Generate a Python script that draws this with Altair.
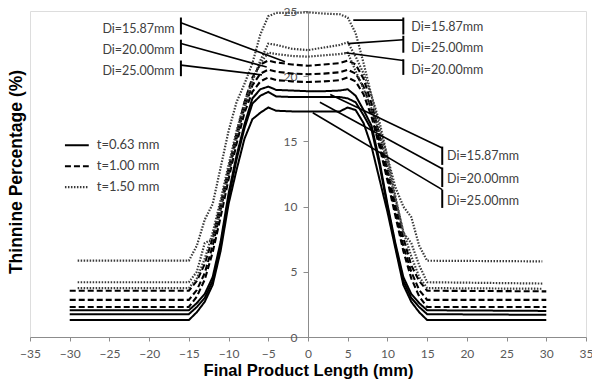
import altair as alt
import pandas as pd

# ---------------- data ----------------
x_grid = [-30, -15, -14, -13, -12, -11, -10, -9, -8, -7, -6, -5, -4, -2, 0, 2, 4, 5, 6, 7, 8, 9, 10, 11, 12, 13, 14, 15, 30]
x_dot = [-29, -15, -14, -13, -12, -11, -10, -9, -8, -7, -6, -5, -4, -2, 0, 2, 4, 5, 6, 7, 8, 9, 10, 11, 12, 13, 14, 15, 29.5]

# t = 0.63 mm (solid)
s_1587 = [2.05, 2.05, 2.6, 3.3, 4.6, 7.3, 11.0, 13.9, 16.3, 18.3, 19.0, 19.2, 18.95, 18.9, 18.85, 18.85, 18.9, 19.0, 18.5, 17.4, 16.2, 13.5, 10.2, 7.2, 4.6, 3.3, 2.6, 2.05, 2.0]
s_2000 = [1.75, 1.75, 2.3, 3.0, 4.3, 7.0, 10.6, 13.6, 16.0, 17.9, 18.5, 18.8, 18.45, 18.4, 18.4, 18.4, 18.4, 18.3, 18.0, 17.0, 15.9, 13.2, 10.0, 7.0, 4.3, 3.0, 2.3, 1.75, 1.7]
s_2500 = [1.3, 1.3, 1.9, 2.7, 4.0, 6.6, 10.2, 12.8, 15.2, 16.7, 17.2, 17.6, 17.35, 17.3, 17.3, 17.3, 17.3, 17.6, 17.4, 16.4, 14.6, 12.1, 9.6, 6.8, 4.0, 2.7, 1.9, 1.3, 1.3]

# t = 1.00 mm (dashed)
d_1587 = [3.55, 3.55, 4.3, 5.6, 7.6, 10.2, 12.9, 15.6, 18.0, 19.9, 20.9, 21.2, 21.05, 20.9, 20.8, 20.9, 21.0, 21.2, 20.9, 19.8, 17.9, 15.5, 12.9, 10.2, 7.6, 5.5, 4.3, 3.55, 3.5]
d_2000 = [2.85, 2.85, 3.6, 4.9, 7.0, 9.7, 12.5, 15.2, 17.6, 19.3, 20.2, 20.5, 20.35, 20.2, 20.15, 20.2, 20.3, 20.5, 20.2, 19.2, 17.4, 15.0, 12.4, 9.7, 7.0, 5.0, 3.6, 2.85, 2.85]
d_2500 = [2.3, 2.3, 3.1, 4.4, 6.5, 9.2, 12.1, 14.8, 17.2, 18.8, 19.6, 19.9, 19.7, 19.6, 19.55, 19.6, 19.7, 19.9, 19.6, 18.6, 16.9, 14.6, 12.0, 9.3, 6.6, 4.5, 3.1, 2.3, 2.3]

# t = 1.50 mm (dotted)
p_1587 = [5.85, 5.85, 7.0, 9.0, 10.2, 13.0, 15.8, 18.0, 19.4, 21.0, 23.2, 24.6, 24.85, 24.85, 24.9, 24.8, 24.75, 24.5, 23.3, 21.0, 18.5, 16.0, 13.8, 11.5, 10.0, 9.2, 7.0, 5.85, 5.8]
p_2500 = [4.2, 4.2, 5.0, 7.2, 7.5, 9.8, 12.6, 15.4, 17.6, 19.6, 21.2, 22.5, 22.4, 22.1, 22.0, 22.2, 22.4, 22.6, 21.5, 20.2, 18.5, 16.5, 13.8, 10.8, 8.0, 7.2, 5.5, 4.2, 4.1]
p_2000 = [3.75, 3.75, 4.5, 6.0, 8.0, 10.5, 13.2, 15.8, 18.0, 19.7, 21.0, 21.8, 21.7, 21.55, 21.5, 21.6, 21.7, 21.8, 20.4, 19.0, 17.5, 15.6, 13.2, 10.6, 8.1, 6.2, 4.6, 3.75, 3.7]

thickness = ["t=0.63 mm", "t=1.00 mm", "t=1.50 mm"]
diameters = ["Di=15.87mm", "Di=20.00mm", "Di=25.00mm"]

series = [
    (thickness[0], diameters[0], x_grid, s_1587),
    (thickness[0], diameters[1], x_grid, s_2000),
    (thickness[0], diameters[2], x_grid, s_2500),
    (thickness[1], diameters[0], x_grid, d_1587),
    (thickness[1], diameters[1], x_grid, d_2000),
    (thickness[1], diameters[2], x_grid, d_2500),
    (thickness[2], diameters[0], x_dot, p_1587),
    (thickness[2], diameters[2], x_dot, p_2500),
    (thickness[2], diameters[1], x_dot, p_2000),
]

# annotation callouts
ann_label = ["Di=15.87mm", "Di=20.00mm", "Di=25.00mm",
             "Di=15.87mm", "Di=25.00mm", "Di=20.00mm",
             "Di=15.87mm", "Di=20.00mm", "Di=25.00mm"]
ann_bar_x = [-16.0, -16.0, -16.0, 12.0, 12.0, 12.0, 16.9, 16.9, 16.9]
ann_bar_top = [24.5, 22.8, 21.2, 24.5, 23.1, 21.3, 14.6, 13.0, 11.3]
ann_bar_bot = [23.2, 21.7, 20.0, 23.2, 21.8, 20.1, 13.2, 11.5, 9.9]
ann_line_y = [24.1, 22.5, 20.85, 24.3, 22.8, 21.2, 14.5, 12.9, 11.3]
ann_end_x = [-2.9, -5.2, -5.8, 5.7, 5.0, 4.7, 2.8, 1.5, 0.6]
ann_end_y = [21.1, 20.7, 20.1, 24.3, 22.5, 21.8, 18.6, 18.0, 17.2]
ann_text_x = [-16.8, -16.8, -16.8, 13.0, 13.0, 13.0, 17.5, 17.5, 17.5]
ann_text_y = [23.6, 22.0, 20.4, 23.8, 22.15, 20.5, 13.85, 12.15, 10.45]
ann_align = ["right"] * 3 + ["left"] * 6

# legend (drawn inside the plot)
leg_x1 = [-30.6, -30.6, -30.6]
leg_x2 = [-27.6, -27.6, -27.6]
leg_tx = [-26.6, -26.6, -26.6]
leg_y = [14.7, 13.1, 11.5]

x_title = "Final Product Length (mm)"
y_title = "Thinnine Percentage (%)"
x_ticks = list(range(-35, 40, 5))
y_ticks = [0, 5, 10, 15, 20, 25]

# ---------------- tables ----------------
rows = []
for t, di, xs, ys in series:
    for xv, yv in zip(xs, ys):
        rows.append({"t": t, "Di": di, "curve": t + " " + di, "x": xv, "y": yv})
df = pd.DataFrame(rows)

ann = pd.DataFrame({
    "label": ann_label, "bx": ann_bar_x, "btop": ann_bar_top, "bbot": ann_bar_bot,
    "ly": ann_line_y, "ex": ann_end_x, "ey": ann_end_y,
    "tx": ann_text_x, "ty": ann_text_y, "align": ann_align,
})
leg = pd.DataFrame({"t": thickness, "x1": leg_x1, "x2": leg_x2, "tx": leg_tx, "y": leg_y})

W, H = 556, 326
xscale = alt.Scale(domain=[-35, 35], nice=False, zero=False)
yscale = alt.Scale(domain=[0, 25], nice=False)
dash_scale = alt.Scale(domain=thickness, range=[[1, 0], [6, 3], [1.5, 1.5]])
col_scale = alt.Scale(domain=thickness, range=["#000000", "#000000", "#3a3a3a"])
width_scale = alt.Scale(domain=thickness, range=[2.0, 2.2, 1.6])

x_axis = alt.Axis(values=x_ticks, title=x_title, grid=False, labelFont="Lato", labelFontSize=12,
                  labelColor="#595959", domainColor="#8c8c8c", tickColor="#8c8c8c", tickSize=4,
                  labelPadding=7, titleFont="Liberation Sans", titleFontSize=16.5, titleFontWeight="bold",
                  titleColor="#000000", titlePadding=3, labelFlush=False, labelOverlap=False)
y_axis = alt.Axis(values=y_ticks, title=None, grid=False, labelFont="Lato", labelFontSize=12,
                  labelColor="#595959", domainColor="#8c8c8c", tickColor="#8c8c8c", tickSize=5,
                  labelPadding=6, offset=-(W / 2), labelFlush=False, labelOverlap=False)


def xq(field):
    return alt.X(field, scale=xscale, axis=x_axis)


def yq(field):
    return alt.Y(field, scale=yscale, axis=y_axis)


lines = alt.Chart(df).mark_line().encode(
    x=xq("x:Q"), y=yq("y:Q"), detail="curve:N",
    strokeDash=alt.StrokeDash("t:N", scale=dash_scale, legend=None),
    color=alt.Color("t:N", scale=col_scale, legend=None),
    strokeWidth=alt.StrokeWidth("t:N", scale=width_scale, legend=None),
)

lead = alt.Chart(ann).mark_rule(color="#000000", strokeWidth=1.6).encode(
    x=xq("bx:Q"), y=yq("ly:Q"), x2="ex:Q", y2="ey:Q")
bars = alt.Chart(ann).mark_rule(color="#000000", strokeWidth=2).encode(
    x=xq("bx:Q"), y=yq("btop:Q"), y2="bbot:Q")
txt_r = alt.Chart(ann[ann["align"] == "right"]).mark_text(
    align="right", baseline="middle", font="Lato", fontSize=12.5, color="#404040").encode(
    x=xq("tx:Q"), y=yq("ty:Q"), text="label:N")
txt_l = alt.Chart(ann[ann["align"] == "left"]).mark_text(
    align="left", baseline="middle", font="Lato", fontSize=12.5, color="#404040").encode(
    x=xq("tx:Q"), y=yq("ty:Q"), text="label:N")

leg_lines = alt.Chart(leg).mark_rule().encode(
    x=xq("x1:Q"), x2="x2:Q", y=yq("y:Q"),
    strokeDash=alt.StrokeDash("t:N", scale=dash_scale, legend=None),
    color=alt.Color("t:N", scale=col_scale, legend=None),
    strokeWidth=alt.StrokeWidth("t:N", scale=width_scale, legend=None),
)
leg_text = alt.Chart(leg).mark_text(align="left", baseline="middle", font="Lato",
                                    fontSize=13, color="#404040").encode(
    x=xq("tx:Q"), y=yq("y:Q"), text="t:N")

ytitle = alt.Chart(pd.DataFrame({"label": [y_title]})).mark_text(
    angle=270, align="center", baseline="middle", font="Liberation Sans",
    fontSize=17.5, fontWeight="bold", color="#000000").encode(
    x=alt.value(-13), y=alt.value(H / 2 - 2), text="label:N")

chart = alt.layer(lines, lead, bars, txt_r, txt_l, leg_lines, leg_text, ytitle).properties(
    width=W, height=H,
    autosize=alt.AutoSizeParams(type="none"),
    padding={"left": 30, "top": 11, "right": 6, "bottom": 51},
).configure_view(stroke="#a6a6a6", strokeWidth=1).configure_axis(
    labelOverlap=False
).configure(background="#ffffff")

chart.save("out.html", embed_options={"renderer": "svg", "actions": False})
